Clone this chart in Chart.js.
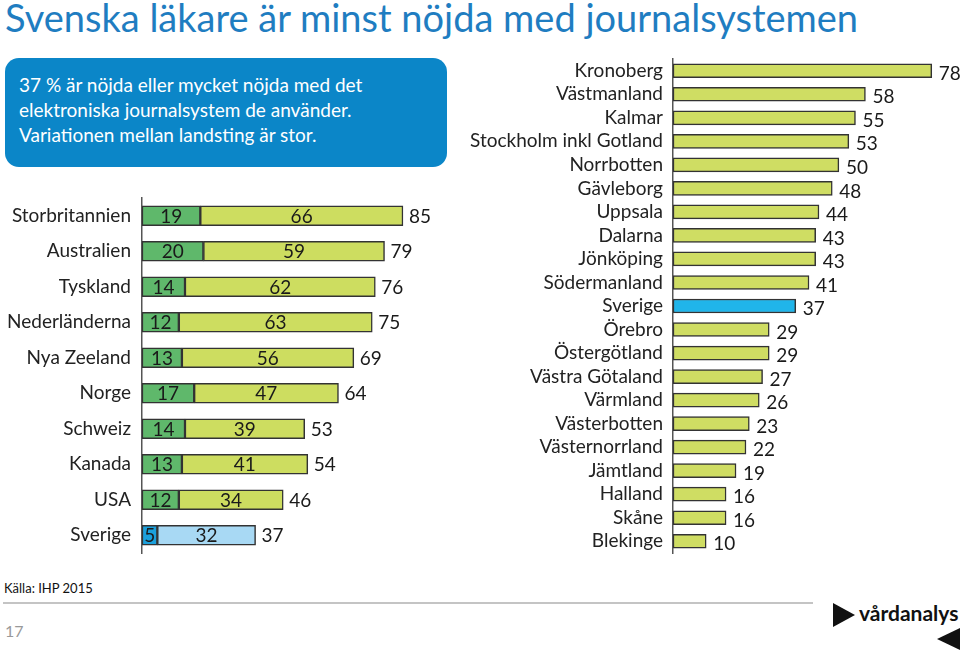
<!DOCTYPE html>
<html>
<head>
<meta charset="utf-8">
<script src="https://cdn.jsdelivr.net/npm/chart.js@4"></script>
<style>
  body { margin: 0; width: 960px; height: 650px; background: #fff; position: relative; overflow: hidden; font-family: Lato, "Open Sans", sans-serif; }
  #title { position: absolute; left: 5px; top: -6px; font-size: 38px; color: #1f7dc1; white-space: nowrap; }
  #box { position: absolute; left: 5px; top: 58px; width: 442px; height: 109px; background: #0b86c8; border-radius: 14px; }
  #box p { margin: 0; position: absolute; left: 14px; top: 14px; color: #fff; font-size: 19px; line-height: 25px; }
  #left { position: absolute; left: 0; top: 190px; }
  #right { position: absolute; left: 460px; top: 55px; }
  #source { position: absolute; left: 4px; top: 580px; font-size: 13px; color: #111; }
  #rule { position: absolute; left: 3px; top: 602px; width: 810px; height: 2px; background: #c4c4c4; }
  #page { position: absolute; left: 5px; top: 621px; font-size: 16px; color: #999; }
  #logo { position: absolute; left: 830px; top: 600px; }
</style>
</head>
<body>
<div id="title">Svenska läkare är minst nöjda med journalsystemen</div>
<div id="box"><p>37 % är nöjda eller mycket nöjda med det<br>elektroniska journalsystem de använder.<br>Variationen mellan landsting är stor.</p></div>
<canvas id="left" width="460" height="365"></canvas>
<canvas id="right" width="500" height="500"></canvas>
<div id="source">Källa: IHP 2015</div>
<div id="rule"></div>
<div id="page">17</div>
<svg id="logo" width="130" height="50">
  <polygon points="3,3 3,27 25,15" fill="#111"/>
  <text x="29" y="21" font-family="Lato, sans-serif" font-weight="bold" font-size="21" fill="#111">vårdanalys</text>
  <polygon points="130,28 130,50 107,39" fill="#111"/>
</svg>
<script>
// left chart: countries
const countries = ['Storbritannien', 'Australien', 'Tyskland', 'Nederländerna', 'Nya Zeeland', 'Norge', 'Schweiz', 'Kanada', 'USA', 'Sverige'];
const veryPleased = [19, 20, 14, 12, 13, 17, 14, 13, 12, 5];
const pleased = [66, 59, 62, 63, 56, 47, 39, 41, 34, 32];

// right chart: landsting
const regions = ['Kronoberg', 'Västmanland', 'Kalmar', 'Stockholm inkl Gotland', 'Norrbotten', 'Gävleborg', 'Uppsala', 'Dalarna', 'Jönköping', 'Södermanland', 'Sverige', 'Örebro', 'Östergötland', 'Västra Götaland', 'Värmland', 'Västerbotten', 'Västernorrland', 'Jämtland', 'Halland', 'Skåne', 'Blekinge'];
const regionValues = [78, 58, 55, 53, 50, 48, 44, 43, 43, 41, 37, 29, 29, 27, 26, 23, 22, 19, 16, 16, 10];

const labelFont = '19px Lato, "Open Sans", sans-serif';

const stackLabels = {
    id: 'stackLabels',
    afterDatasetsDraw(chart) {
        const ctx = chart.ctx;
        ctx.save();
        ctx.font = labelFont;
        ctx.fillStyle = '#1a1a1a';
        ctx.textBaseline = 'middle';
        ctx.textAlign = 'center';
        chart.data.datasets.forEach((ds, di) => {
            chart.getDatasetMeta(di).data.forEach((bar, i) => {
                ctx.fillText(ds.data[i], (bar.x + bar.base) / 2, bar.y + 1);
            });
        });
        ctx.textAlign = 'left';
        const last = chart.getDatasetMeta(chart.data.datasets.length - 1).data;
        last.forEach((bar, i) => {
            ctx.fillText(veryPleased[i] + pleased[i], bar.x + 6, bar.y + 1);
        });
        ctx.restore();
    }
};

const endLabels = {
    id: 'endLabels',
    afterDatasetsDraw(chart) {
        const ctx = chart.ctx;
        ctx.save();
        ctx.font = labelFont;
        ctx.fillStyle = '#1a1a1a';
        ctx.textBaseline = 'middle';
        ctx.textAlign = 'left';
        chart.getDatasetMeta(0).data.forEach((bar, i) => {
            ctx.fillText(regionValues[i], bar.x + 7, bar.y + 3);
        });
        ctx.restore();
    }
};

// fixed axis width, and no extra room above/below for the tick labels
const fixWidth = (w) => (scale) => {
    scale.width = w;
    scale.paddingTop = 0;
    scale.paddingBottom = 0;
};

new Chart(document.getElementById('left'), {
    type: 'bar',
    data: {
        labels: countries,
        datasets: [{
            data: veryPleased,
            backgroundColor: countries.map(c => c === 'Sverige' ? '#1ba0dc' : '#5fb86b'),
            borderColor: '#333',
            borderWidth: 1.5,
            borderSkipped: false,
            barThickness: 20
        }, {
            data: pleased,
            backgroundColor: countries.map(c => c === 'Sverige' ? '#a8d9f4' : '#cddd60'),
            borderColor: '#333',
            borderWidth: 1.5,
            borderSkipped: false,
            barThickness: 20
        }]
    },
    options: {
        indexAxis: 'y',
        responsive: false,
        animation: false,
        layout: { padding: { top: 8, bottom: 2, right: 11, left: 0 } },
        plugins: { legend: { display: false }, tooltip: { enabled: false } },
        scales: {
            x: { stacked: true, display: false, min: 0, max: 100 },
            y: {
                stacked: true,
                afterFit: fixWidth(142),
                grid: { display: false, drawTicks: false },
                border: { display: true, color: '#555', width: 1.5 },
                ticks: { color: '#222', font: { family: 'Lato', size: 19 }, padding: 11 }
            }
        }
    },
    plugins: [stackLabels]
});

new Chart(document.getElementById('right'), {
    type: 'bar',
    data: {
        labels: regions,
        datasets: [{
            data: regionValues,
            backgroundColor: regions.map(r => r === 'Sverige' ? '#20b5ea' : '#cfdd63'),
            borderColor: '#333',
            borderWidth: 1.5,
            borderSkipped: false,
            barThickness: 14
        }]
    },
    options: {
        indexAxis: 'y',
        responsive: false,
        animation: false,
        layout: { padding: { top: 4, bottom: 2, right: 5, left: 0 } },
        plugins: { legend: { display: false }, tooltip: { enabled: false } },
        scales: {
            x: { display: false, min: 0, max: 85 },
            y: {
                afterFit: fixWidth(213),
                grid: { display: false, drawTicks: false },
                border: { display: true, color: '#555', width: 1.5 },
                ticks: { color: '#222', font: { family: 'Lato', size: 19 }, padding: 10, autoSkip: false }
            }
        }
    },
    plugins: [endLabels]
});
</script>
</body>
</html>
